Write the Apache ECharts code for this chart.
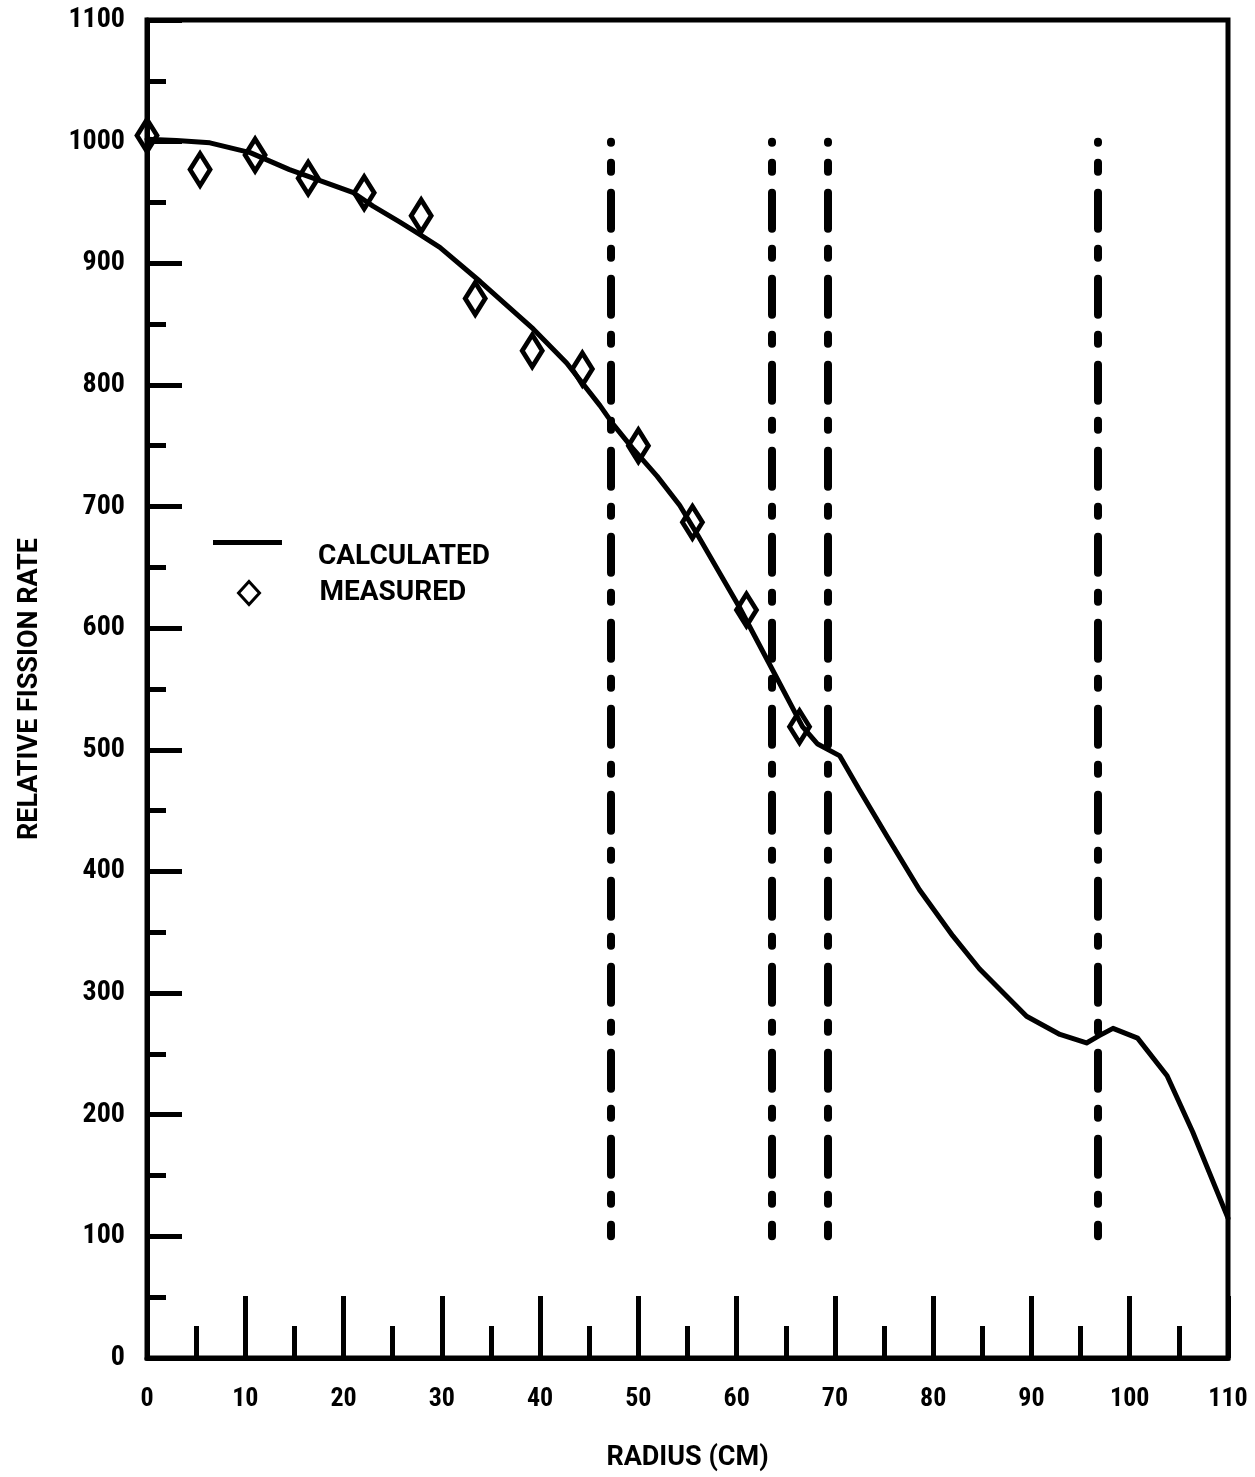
<!DOCTYPE html>
<html>
<head>
<meta charset="utf-8">
<title>Relative Fission Rate vs Radius</title>
<script src="https://cdn.jsdelivr.net/npm/echarts@6/dist/echarts.min.js"></script>
<style>
  html, body { margin: 0; padding: 0; background: #fff; }
  #chart { width: 1255px; height: 1477px; }
</style>
</head>
<body>
<div id="chart"></div>
<script>
// Calculated fission-rate profile (radius in cm, relative rate)
const calcRadius = [0, 3, 6.4, 10.5, 14.5, 21, 23, 25.7, 27.5, 29.8, 33.9, 39.3, 42.7, 46.1, 47.4, 49.4, 51.9, 54.2, 56, 60.3, 63.7, 66.7, 68.2, 70.5, 72.5, 75.3, 78.6, 82, 84.7, 89.5, 92.9, 95.6, 96.9, 98.3, 100.8, 103.8, 106.4, 110];
const calcRate   = [1002, 1001, 999, 991, 977, 958, 947, 934, 925, 913, 885, 846, 818, 783, 768, 748, 725, 701, 677, 617, 565, 519, 505, 495, 467, 429, 385, 347, 320, 281, 266, 259, 265, 271, 263, 232, 186, 115];

// Measured fission rates
const measRadius = [0, 5.4, 11, 16.4, 22.1, 27.9, 33.4, 39.2, 44.3, 50, 55.5, 61, 66.4];
const measRate   = [1005, 977, 989, 970, 958, 939, 871, 828, 813, 750, 687, 615, 519];

// Region boundaries (radius, cm) drawn as dash-dot lines between two rate levels
const boundaryRadii = [47.2, 63.6, 69.3, 96.7];
const boundaryTop = 1000;
const boundaryBottom = 100;

// Axis ranges and tick steps
const xMin = 0, xMax = 110, xStep = 10;
const yMin = 0, yMax = 1100, yStep = 100;

const NUM_FONT = '"Roboto Condensed", "DejaVu Sans Condensed", sans-serif';
const TEXT_FONT = 'Roboto, "Liberation Sans", sans-serif';

const chart = echarts.init(document.getElementById('chart'), null, { renderer: 'canvas' });

const calcData = calcRadius.map((r, i) => [r, calcRate[i]]);
const measData = measRadius.map((r, i) => [r, measRate[i]]);
const boundaryLines = boundaryRadii.map(r => [
  { coord: [r, boundaryTop] },
  { coord: [r, boundaryBottom] }
]);

// Legend key for the calculated curve: a bar at the top of a taller box,
// so the caption sits slightly below the stroke.
const lineKeyIcon = 'path://M0,0H69V5H0Z M0,33H0.01V33.01H0Z';

chart.setOption({
  backgroundColor: '#ffffff',
  animation: false,
  grid: {
    left: 147, right: 27, top: 20, bottom: 113,
    show: true, borderColor: '#000', borderWidth: 5, backgroundColor: 'transparent'
  },
  legend: [
    {
      data: ['CALCULATED'],
      left: 213, top: 540, padding: 0,
      orient: 'vertical', selectedMode: false,
      icon: lineKeyIcon, itemWidth: 69, itemHeight: 33,
      itemStyle: { color: '#000', borderWidth: 0 },
      textStyle: { fontFamily: TEXT_FONT, fontWeight: 'bold', fontSize: 28, color: '#000', padding: [0, 0, 0, 31] }
    },
    {
      data: ['MEASURED'],
      left: 237, top: 579, padding: 0,
      orient: 'vertical', selectedMode: false,
      icon: 'diamond', itemWidth: 21, itemHeight: 23,
      itemStyle: { color: 'rgba(0,0,0,0)', borderColor: '#000', borderWidth: 3, opacity: 1 },
      textStyle: { fontFamily: TEXT_FONT, fontWeight: 'bold', fontSize: 28, color: '#000', padding: [0, 0, 0, 55] }
    }
  ],
  xAxis: {
    type: 'value', min: xMin, max: xMax, interval: xStep,
    name: 'RADIUS (CM)', nameLocation: 'middle', nameGap: 87,
    nameTextStyle: { fontFamily: TEXT_FONT, fontWeight: 'bold', fontSize: 27, color: '#000' },
    axisLine: { show: true, lineStyle: { color: '#000', width: 5 } },
    axisTick: { show: true, inside: true, length: 62, lineStyle: { color: '#000', width: 5 } },
    minorTick: { show: true, splitNumber: 2, length: 32, lineStyle: { color: '#000', width: 5 } },
    splitLine: { show: false },
    axisLabel: {
      fontFamily: NUM_FONT, fontWeight: 'bold', fontSize: 26, color: '#000', margin: 28,
      formatter: v => String(v)
    }
  },
  yAxis: {
    type: 'value', min: yMin, max: yMax, interval: yStep,
    name: 'RELATIVE FISSION RATE', nameLocation: 'middle', nameGap: 103,
    nameTextStyle: { fontFamily: TEXT_FONT, fontWeight: 'bold', fontSize: 27, color: '#000' },
    axisLine: { show: true, lineStyle: { color: '#000', width: 5 } },
    axisTick: { show: true, inside: true, length: 35, lineStyle: { color: '#000', width: 5 } },
    minorTick: { show: true, splitNumber: 2, length: 19, lineStyle: { color: '#000', width: 5 } },
    splitLine: { show: false },
    axisLabel: {
      fontFamily: NUM_FONT, fontWeight: 'bold', fontSize: 28, color: '#000', margin: 22,
      formatter: v => String(v)
    }
  },
  series: [
    {
      name: 'CALCULATED',
      type: 'line',
      data: calcData,
      showSymbol: false,
      symbol: 'none',
      smooth: false,
      lineStyle: { color: '#000', width: 5, cap: 'round', join: 'round' },
      itemStyle: { color: '#000' },
      z: 3,
      markLine: {
        silent: true,
        symbol: ['none', 'none'],
        label: { show: false },
        lineStyle: {
          color: '#000', width: 8, type: [36, 20, 9, 21], dashOffset: 35, cap: 'round'
        },
        data: boundaryLines
      }
    },
    {
      name: 'MEASURED',
      type: 'scatter',
      data: measData,
      symbol: 'diamond',
      symbolSize: [20, 32],
      clip: false,
      itemStyle: { color: 'rgba(0,0,0,0)', borderColor: '#000', borderWidth: 5, opacity: 1 },
      z: 4
    }
  ]
});
</script>
</body>
</html>
